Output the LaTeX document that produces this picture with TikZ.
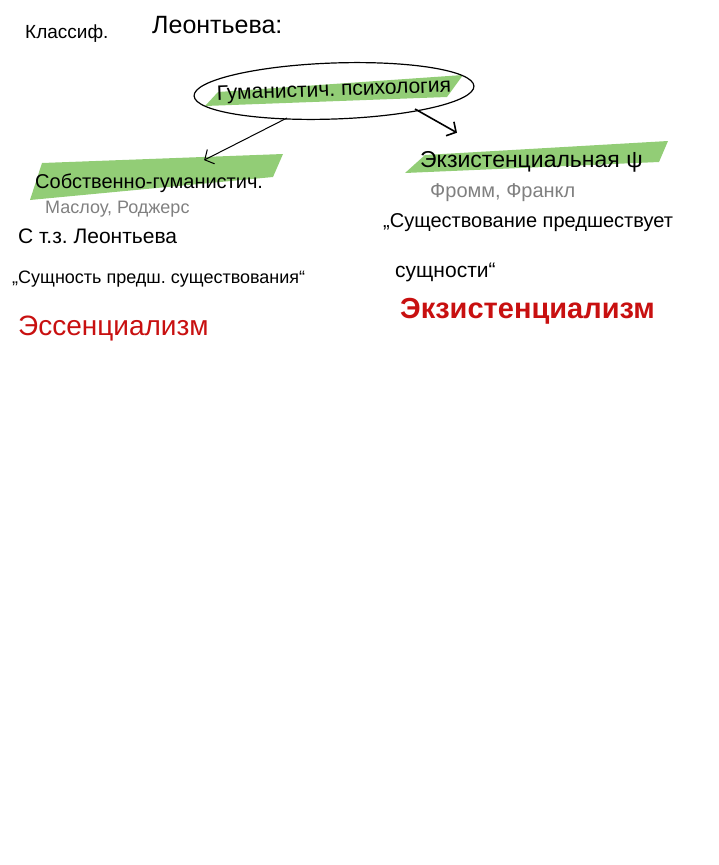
\documentclass[tikz,border=0pt]{standalone}
\usepackage{fontspec}
\setmainfont{Liberation Sans}
\usetikzlibrary{arrows.meta}
\definecolor{marker}{RGB}{146,205,118}
\definecolor{redink}{RGB}{200,16,16}
\definecolor{pencil}{RGB}{128,128,128}
\tikzset{
  hand/.style={anchor=base west, inner sep=0pt, font=\fontsize{#1}{#1}\selectfont\frenchspacing},
  hand/.default=20,
  names/.style={hand=#1, text=pencil},
  names/.default=18,
  term/.style={hand=#1, text=redink},
  term/.default=28,
  tip/.style={-{Straight Barb[length=7pt,width=16pt]}},
}

\begin{document}
\begin{tikzpicture}[x=1pt,y=-1pt]
\useasboundingbox (0,0) rectangle (718,865);

% heading
\node[hand=19] (cls) at (25,38) {Классиф.};
\node[hand=25] (leo) at (152,33) {Леонтьева:};

% root
\fill[marker] (218,92) -- (463,75) -- (447,97) -- (205,106) -- cycle;
\node[hand=21, anchor=center, rotate=2] (root) at (334,91) {Гуманистич. психология};
\draw[line width=1.2pt, rotate around={2:(root.center)}] (root.center) ellipse (140pt and 28pt);
\coordinate (rootL) at (287,118);
\coordinate (rootR) at (415,109);

% left branch
\fill[marker] (42,163) -- (283,154) -- (273,177) -- (30,200) -- cycle;
\node[hand] (own) at (35,188) {Собственно-гуманистич.};
\node[names] (ownnames) at (45,213) {Маслоу, Роджерс};
\node[hand=21] (ownview) at (18,243) {С т.з. Леонтьева};
\node[hand=18] (ownquote) at (12,283) {„Сущность предш. существования“};
\node[term] (ownism) at (18,335) {Эссенциализм};

% right branch
\fill[marker] (425,155) -- (668,141) -- (659,162) -- (405,173) -- cycle;
\node[hand=23] (exi) at (420,167) {Экзистенциальная ψ};
\node[names=20] (exinames) at (430,197) {Фромм, Франкл};
\node[hand] (exiquote) at (383,227) {„Существование предшествует};
\node[hand=21] (exiquote2) at (395,277) {сущности“};
\node[term, font=\bfseries\fontsize{29}{29}\selectfont] (exiism) at (400,318) {Экзистенциализм};

% arrows
\draw[tip, line width=1pt] (rootL) -- ([xshift=55pt,yshift=13pt]own.north);
\draw[tip, line width=1.6pt] (rootR) -- ([xshift=37pt,yshift=18pt]exi.north west);
\end{tikzpicture}
\end{document}
